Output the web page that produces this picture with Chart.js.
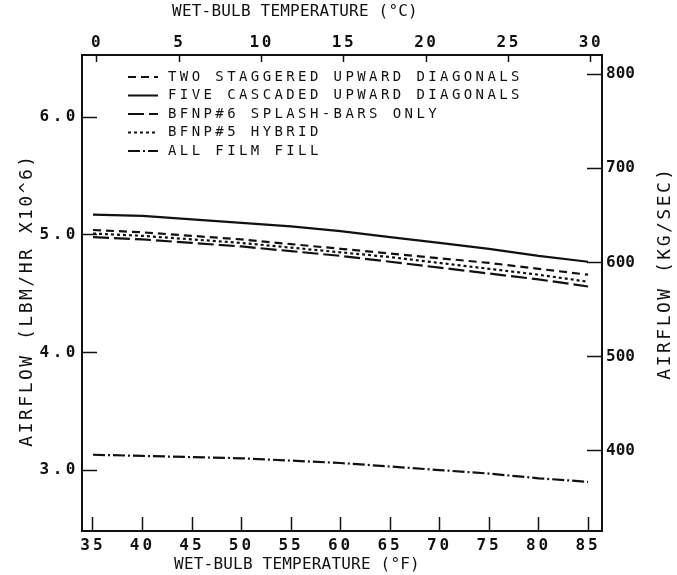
<!DOCTYPE html>
<html>
<head>
<meta charset="utf-8">
<title>Airflow vs wet-bulb temperature</title>
<script src="https://cdn.jsdelivr.net/npm/chart.js@4.4.1/dist/chart.umd.min.js"></script>
<style>
  body { margin: 0; background: #fff; }
  canvas { display: block; }
</style>
</head>
<body>
<canvas id="chartAirflow" width="677" height="575"></canvas>
<script>
// wet-bulb temperatures (°F) where the curves were read
let wetBulbF = [35, 40, 45, 50, 55, 60, 65, 70, 75, 80, 85];

// airflow, LBM/HR x10^6
let twoStaggered = [5.04, 5.02, 4.99, 4.96, 4.92, 4.88, 4.84, 4.80, 4.76, 4.71, 4.66];
let fiveCascaded = [5.17, 5.16, 5.13, 5.10, 5.07, 5.03, 4.98, 4.93, 4.88, 4.82, 4.77];
let splashBars   = [4.98, 4.96, 4.93, 4.90, 4.86, 4.82, 4.77, 4.72, 4.67, 4.62, 4.56];
let hybrid       = [5.01, 4.99, 4.96, 4.93, 4.89, 4.85, 4.81, 4.76, 4.71, 4.66, 4.60];
let filmFill     = [3.13, 3.12, 3.11, 3.10, 3.08, 3.06, 3.03, 3.00, 2.97, 2.93, 2.90];

// tick labels
let ticksF   = [35, 40, 45, 50, 55, 60, 65, 70, 75, 80, 85];
let ticksC   = [0, 5, 10, 15, 20, 25, 30];
let ticksLbm = [3, 4, 5, 6];
let ticksKg  = [400, 500, 600, 700, 800];

const ink = '#111';
const mono = 'DejaVu Sans Mono';

function series(label, values, dash) {
    return {
        label: label,
        data: values.map((v, i) => ({ x: wetBulbF[i], y: v })),
        borderColor: ink,
        borderWidth: 2.2,
        borderDash: dash,
        pointRadius: 0,
        tension: 0,
        fill: false,
        xAxisID: 'x',
        yAxisID: 'y'
    };
}

// plotter style axis: frame line, ticks pointing into the plot
function axis(position, min, max, values, tickLength, padding, size) {
    return {
        type: 'linear',
        position: position,
        min: min,
        max: max,
        afterBuildTicks: (s) => { s.ticks = values.map((v) => ({ value: v })); },
        afterFit: (s) => {
            if (s.isHorizontal()) s.height = size; else s.width = size;
        },
        grid: { drawOnChartArea: false, tickLength: tickLength, tickWidth: 1.5, tickColor: ink },
        border: { color: ink, width: 2 },
        ticks: { color: ink, font: { family: mono, size: 16, weight: 'bold' }, padding: padding, maxRotation: 0, autoSkip: false }
    };
}

let scaleF = axis('bottom', 33.89, 86.41, ticksF, -14, 19.4, 44);
scaleF.title = { display: true, text: 'WET-BULB TEMPERATURE (°F)', color: ink, font: { family: mono, size: 16 }, padding: { top: 0, bottom: 0.4 } };

let scaleC = axis('top', -0.91, 30.67, ticksC, -7, 9.4, 55);
scaleC.title = { display: true, text: 'WET-BULB TEMPERATURE (°C)', color: ink, font: { family: mono, size: 16 }, padding: { top: 2.4, bottom: 0 } };

let scaleLbm = axis('left', 2.482, 6.527, ticksLbm, -15, 18, 82);
scaleLbm.ticks.callback = (v) => v.toFixed(1);
scaleLbm.title = { display: true, text: 'AIRFLOW (LBM/HR X10^6)', color: ink, font: { family: mono, size: 18 }, padding: { top: 16.2, bottom: 0 } };

let scaleKg = axis('right', 315.1, 820.2, ticksKg, -15, 19, 75);
scaleKg.title = { display: true, text: 'AIRFLOW (KG/SEC)', color: ink, font: { family: mono, size: 18 }, padding: { top: 1.2, bottom: 0 } };

// letter spacing and small shifts for the plotter lettering
let axisText = {
    x:  { ticks: '3px',   title: '0.2px', dx: -45, dy: 0 },
    x2: { ticks: '2.5px', title: '0.2px', dx: -47, dy: 0 },
    y:  { ticks: '3.5px', title: '2.5px', dx: 0,   dy: 7 },
    y2: { ticks: '0px',   title: '2.5px', dx: 0,   dy: -20, flip: true }
};

const plotterAxes = {
    id: 'plotterAxes',
    beforeDraw(chart) {
        Object.keys(axisText).forEach((id) => {
            const scale = chart.scales[id];
            const st = axisText[id];
            if (scale.$plotter) return;
            scale.$plotter = true;
            const drawLabels = scale.drawLabels;
            const drawTitle = scale.drawTitle;
            scale.drawLabels = function (area) {
                this.ctx.save();
                this.ctx.letterSpacing = st.ticks;
                drawLabels.call(this, area);
                this.ctx.restore();
            };
            scale.drawTitle = function () {
                const ctx = this.ctx;
                ctx.save();
                ctx.letterSpacing = st.title;
                ctx.translate(st.dx, st.dy);
                if (st.flip) {
                    // right hand title reads bottom to top like the left one
                    const cx = this.right - 12, cy = (this.top + this.bottom) / 2;
                    ctx.translate(cx, cy);
                    ctx.rotate(Math.PI);
                    ctx.translate(-cx, -cy);
                }
                drawTitle.call(this);
                ctx.restore();
            };
        });
    }
};

// legend inside the frame, one line per curve
const plotterLegend = {
    id: 'plotterLegend',
    afterDraw(chart) {
        const ctx = chart.ctx;
        ctx.save();
        ctx.font = '14px "' + mono + '"';
        ctx.letterSpacing = '3.4px';
        ctx.fillStyle = ink;
        ctx.textBaseline = 'middle';
        chart.data.datasets.forEach((ds, i) => {
            const y = 77 + i * 18.5;
            ctx.setLineDash(ds.borderDash);
            ctx.lineWidth = 2;
            ctx.strokeStyle = ds.borderColor;
            ctx.beginPath();
            ctx.moveTo(128, y);
            ctx.lineTo(158, y);
            ctx.stroke();
            ctx.fillText(ds.label, 168, y);
        });
        ctx.restore();
    }
};

new Chart(document.getElementById('chartAirflow'), {
    type: 'line',
    data: {
        datasets: [
            series('TWO STAGGERED UPWARD DIAGONALS', twoStaggered, [8, 5]),
            series('FIVE CASCADED UPWARD DIAGONALS', fiveCascaded, []),
            series('BFNP#6 SPLASH-BARS ONLY', splashBars, [16, 5]),
            series('BFNP#5 HYBRID', hybrid, [3, 3]),
            series('ALL FILM FILL', filmFill, [12, 3, 2, 3])
        ]
    },
    options: {
        responsive: false,
        animation: false,
        layout: { padding: 0 },
        plugins: {
            legend: { display: false },
            tooltip: { enabled: false }
        },
        scales: {
            x: scaleF,
            x2: scaleC,
            y: scaleLbm,
            y2: scaleKg
        }
    },
    plugins: [plotterAxes, plotterLegend]
});
</script>
</body>
</html>
